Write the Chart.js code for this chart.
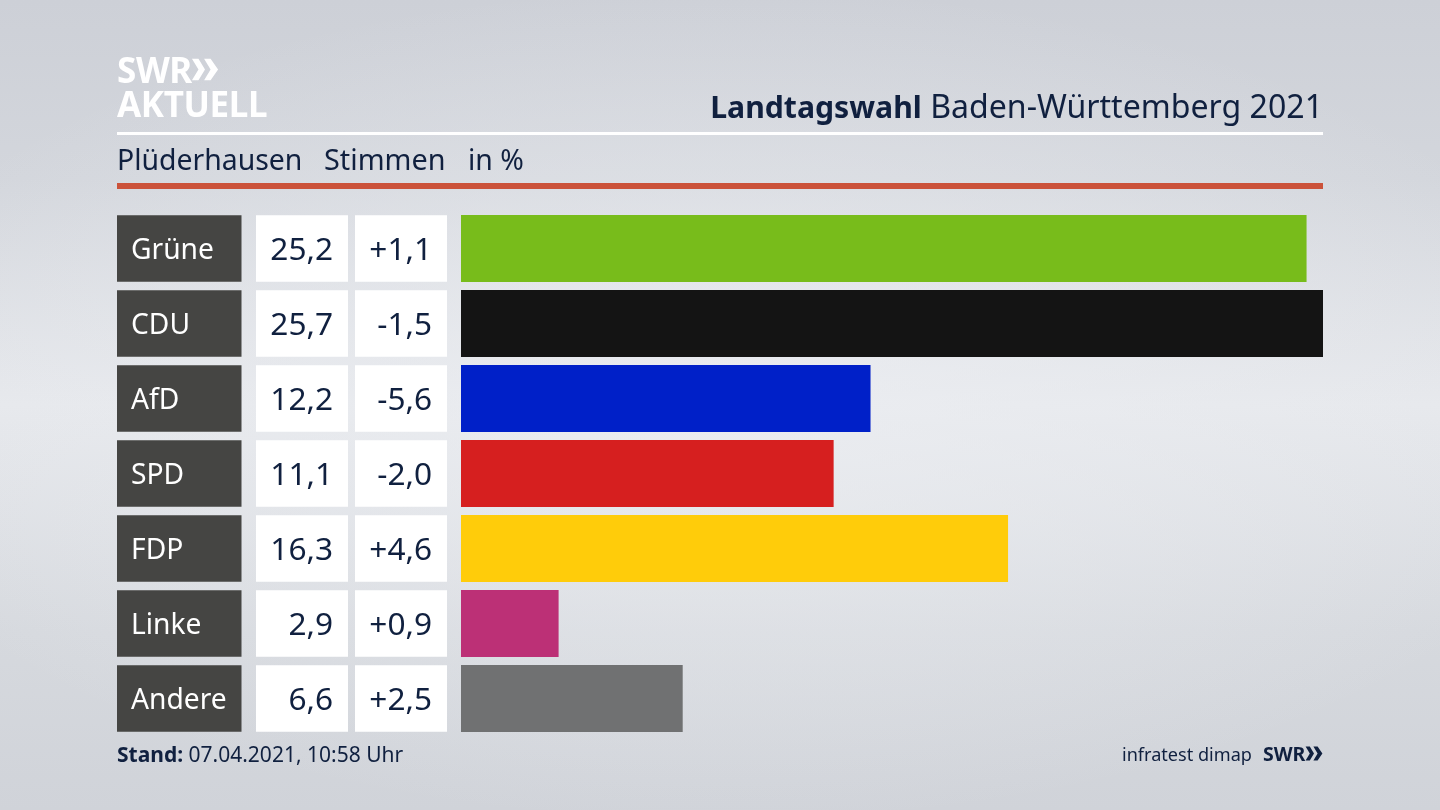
<!DOCTYPE html>
<html lang="de">
<head>
<meta charset="utf-8">
<title>Landtagswahl Baden-Württemberg 2021</title>
<script src="https://cdn.jsdelivr.net/npm/chart.js@4/dist/chart.umd.min.js"></script>
<style>
    html, body { margin: 0; padding: 0; }
    body {
        width: 1440px;
        height: 810px;
        overflow: hidden;
        position: relative;
        font-family: "Noto Sans", sans-serif;
        color: #10203f;
        background:
            radial-gradient(ellipse 900px 420px at 50% 50%, rgba(236,238,242,0.75), rgba(236,238,242,0)),
            linear-gradient(180deg, #cdd0d7 0%, #d3d6dc 22%, #e6e8ec 50%, #d6d9de 78%, #d0d3d9 100%);
    }
    canvas { position: absolute; left: 0; top: 0; }
    .abs { position: absolute; white-space: nowrap; }
    .logo { color: #fff; font-weight: 700; font-size: 35px; line-height: 35px; letter-spacing: -0.4px; }
    .rule-white { left: 117px; top: 132px; width: 1206px; height: 3px; background: #fff; }
    .rule-red { left: 117px; top: 183px; width: 1206px; height: 6px; background: #cb523a; }
    .title { right: 117px; top: 85px; font-size: 32.1px; line-height: 42px; }
    .title b { font-size: 30.2px; }
    .sub { top: 140px; font-size: 28.4px; line-height: 38px; }
    .foot { top: 740px; font-size: 21px; line-height: 28px; }
</style>
</head>
<body>
<canvas id="resultChart" width="1440" height="810"></canvas>

<div class="abs logo" style="left:117px;top:52px">SWR</div>
<svg class="abs" style="left:191px;top:57px" width="28" height="25" viewBox="0 0 30 25">
    <path d="M1 1 L8 1 L15 12.5 L8 24 L1 24 L8 12.5 Z M14 1 L21 1 L29 12.5 L21 24 L14 24 L21 12.5 Z" fill="#fff"/>
</svg>
<div class="abs logo" style="left:117px;top:86px">AKTUELL</div>
<div class="abs rule-white"></div>

<div class="abs title"><b>Landtagswahl</b> Baden-Württemberg 2021</div>
<div class="abs sub" style="left:117px">Plüderhausen</div>
<div class="abs sub" style="left:324px;font-size:28.8px">Stimmen</div>
<div class="abs sub" style="left:468px">in %</div>
<div class="abs rule-red"></div>

<div class="abs foot" style="left:117px"><b>Stand:</b> 07.04.2021, 10:58 Uhr</div>
<div class="abs foot" style="left:1122px;font-size:18.1px">infratest dimap</div>
<div class="abs foot" style="left:1263px;font-size:19.5px;font-weight:700">SWR</div>
<svg class="abs" style="left:1305px;top:745px" width="18" height="17" viewBox="0 0 30 25">
    <path d="M1 1 L8 1 L15 12.5 L8 24 L1 24 L8 12.5 Z M14 1 L21 1 L29 12.5 L21 24 L14 24 L21 12.5 Z" fill="#10203f"/>
</svg>

<script>
// Data
const parties = ['Grüne', 'CDU', 'AfD', 'SPD', 'FDP', 'Linke', 'Andere'];
const shares = [25.2, 25.7, 12.2, 11.1, 16.3, 2.9, 6.6];
const changes = ['+1,1', '-1,5', '-5,6', '-2,0', '+4,6', '+0,9', '+2,5'];
const partyColors = ['#78bc1b', '#141414', '#0020c8', '#d61f1f', '#ffcc0a', '#bc3076', '#707172'];

// Draws the table cells to the left of the bars, one row per category
const rowCells = {
    id: 'rowCells',
    afterDatasetsDraw(chart) {
        const ctx = chart.ctx;
        const yScale = chart.scales.y;
        const h = 66.5;
        ctx.save();
        ctx.textBaseline = 'middle';
        parties.forEach((party, i) => {
            const y = yScale.getPixelForValue(i);
            const top = y - h / 2;

            ctx.fillStyle = '#454543';
            ctx.fillRect(117, top, 124.5, h);
            ctx.fillStyle = '#ffffff';
            ctx.fillRect(256, top, 92, h);
            ctx.fillRect(355, top, 92, h);

            ctx.font = '28.2px "Noto Sans"';
            ctx.textAlign = 'left';
            ctx.fillText(party, 131, y + 2);

            ctx.font = '31.6px "Noto Sans"';
            ctx.textAlign = 'right';
            ctx.fillStyle = '#10203f';
            ctx.fillText(shares[i].toFixed(1).replace('.', ','), 333, y + 2);
            ctx.fillText(changes[i], 432, y + 2);
        });
        ctx.restore();
    }
};

new Chart(document.getElementById('resultChart').getContext('2d'), {
    type: 'bar',
    data: {
        labels: parties,
        datasets: [{
            data: shares,
            backgroundColor: partyColors,
            borderWidth: 0,
            barThickness: 66.5
        }]
    },
    options: {
        indexAxis: 'y',
        responsive: false,
        animation: false,
        layout: {
            padding: { left: 461, right: 117, top: 211, bottom: 74 }
        },
        plugins: {
            legend: { display: false },
            tooltip: { enabled: false }
        },
        scales: {
            x: { display: false, min: 0, max: 25.7 },
            y: { display: false }
        }
    },
    plugins: [rowCells]
});
</script>
</body>
</html>
